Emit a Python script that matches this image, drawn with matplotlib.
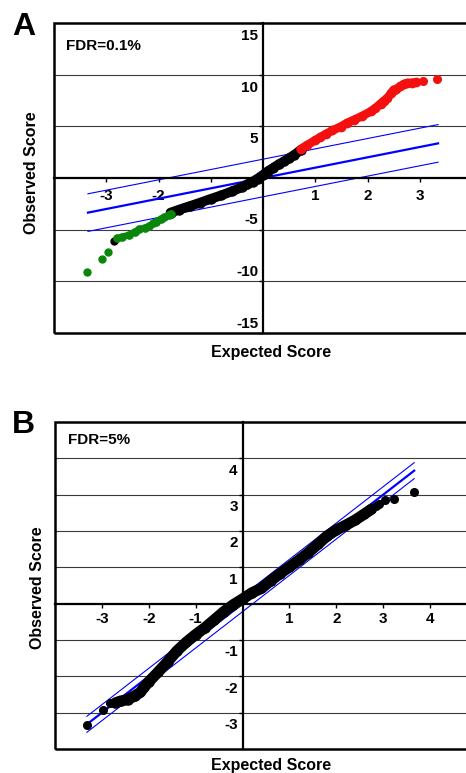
import matplotlib
matplotlib.use("Agg")
import matplotlib.pyplot as plt
from matplotlib.patches import Rectangle

plt.rcParams['font.family'] = ['Liberation Sans', 'DejaVu Sans']
plt.rcParams['font.weight'] = 'bold'

# ---- panel A data (FDR=0.1%) ----
a_black_x = [-1.77, -1.6, -1.4, -1.2, -1.0, -0.8, -0.6, -0.4, -0.3, -0.2, -0.1,
             0.0, 0.1, 0.2, 0.3, 0.4, 0.5, 0.6, 0.72]
a_black_y = [-3.35, -3.05, -2.72, -2.38, -2.02, -1.68, -1.3, -0.88, -0.62, -0.36, -0.05,
             0.3, 0.68, 1.0, 1.32, 1.6, 1.92, 2.25, 2.7]
a_black_out_x = [-2.86]
a_black_out_y = [-6.05]
a_green_x = [-2.80, -2.7, -2.56, -2.45, -2.37, -2.25, -2.18, -2.1, -2.05, -1.95, -1.89, -1.8, -1.76]
a_green_y = [-5.85, -5.7, -5.5, -5.2, -4.98, -4.8, -4.66, -4.4, -4.24, -3.95, -3.82, -3.55, -3.45]
a_green_out_x = [-3.36, -3.09, -2.96]
a_green_out_y = [-9.1, -7.83, -7.12]
a_red_x = [0.72, 0.85, 1.0, 1.1, 1.2, 1.33, 1.49, 1.6, 1.74, 1.9, 2.06, 2.15, 2.25, 2.32,
           2.38, 2.45, 2.5, 2.55, 2.63, 2.7, 2.76, 2.85, 2.92]
a_red_y = [2.79, 3.2, 3.65, 3.95, 4.25, 4.6, 4.98, 5.3, 5.63, 6.0, 6.44, 6.75, 7.2, 7.5,
           7.74, 8.2, 8.54, 8.6, 8.86, 9.1, 9.19, 9.22, 9.25]
a_red_out_x = [3.06, 3.33]
a_red_out_y = [9.35, 9.6]
a_line_x = [-3.35, 3.35]
a_delta = 1.82
a_yticks_lab = [15, 10, 5, -5, -10, -15]
a_grid = [10, 5, -5, -10]
a_xticks = [-3, -2, -1, 1, 2, 3]
a_xlabels = [-3, -2, 1, 2, 3]

# ---- panel B data (FDR=5%) ----
b_x = [-2.71, -2.6, -2.45, -2.3, -2.18, -2.1, -2.0, -1.8, -1.6, -1.4, -1.2, -1.0, -0.8,
       -0.6, -0.4, -0.2, 0.0, 0.2, 0.4, 0.6, 0.8, 1.0, 1.2, 1.4, 1.6, 1.8, 2.0, 2.2,
       2.4, 2.6, 2.75]
b_y = [-2.73, -2.68, -2.64, -2.54, -2.44, -2.3, -2.15, -1.88, -1.6, -1.3, -1.06, -0.85, -0.66,
       -0.44, -0.22, -0.03, 0.13, 0.3, 0.42, 0.63, 0.83, 1.01, 1.2, 1.4, 1.63, 1.86, 2.03, 2.16,
       2.3, 2.47, 2.6]
b_out_x = [-3.31, -2.98, -2.82, 2.84, 2.91, 3.03, 3.23, 3.65]
b_out_y = [-3.35, -2.94, -2.74, 2.7, 2.75, 2.85, 2.88, 3.06]
b_line_x = [-3.32, 3.66]
b_delta = 0.22
b_yticks_lab = [4, 3, 2, 1, -1, -2, -3]
b_grid = [4, 3, 2, 1, -1, -2, -3]
b_xticks = [-3, -2, -1, 1, 2, 3, 4]
b_xlabels = [-3, -2, -1, 1, 2, 3, 4]

fig = plt.figure(figsize=(4.66, 7.73), dpi=100)
W, H = 466, 773


def setup(ax, xlim, ylim, grid, xticks, xlabels, ylabels, ypos_off, yneg_off, xoff):
    ax.set_xlim(*xlim)
    ax.set_ylim(*ylim)
    for s in ['top', 'right']:
        ax.spines[s].set_visible(False)
    ax.spines['left'].set_position(('data', 0))
    ax.spines['bottom'].set_position(('data', 0))
    ax.spines['left'].set_linewidth(1.6)
    ax.spines['bottom'].set_linewidth(1.6)
    ax.spines['left'].set_zorder(2.5)
    ax.spines['bottom'].set_zorder(2.5)
    ax.add_patch(Rectangle((0, 0), 1, 1, transform=ax.transAxes, fill=False,
                           lw=1.8, ec='black', zorder=5, clip_on=False))
    for g in grid:
        ax.axhline(g, color='#3a3a3a', lw=0.8, zorder=1)
    ax.set_xticks(xticks)
    ax.set_yticks(ylabels)
    ax.tick_params(direction='out', length=3, width=1, labelbottom=False, labelleft=False)
    for v in ylabels:
        off = ypos_off if v > 0 else yneg_off
        ax.annotate(str(v), xy=(0, v), xytext=(-3.5, off), textcoords='offset points',
                    ha='right', va='center', fontsize=11, fontweight='bold', zorder=1.5)
    for v in xlabels:
        ax.annotate(str(v), xy=(v, 0), xytext=(0, xoff), textcoords='offset points',
                    ha='center', va='center', fontsize=11, fontweight='bold', zorder=1.5)


# panel A
axA = fig.add_axes([54 / W, (H - 333) / H, 418 / W, 310 / H])
setup(axA, (-4, 4), (-15, 15), a_grid, a_xticks, a_xlabels, a_yticks_lab, -9.4, 6.8, -13)
axA.plot(a_line_x, a_line_x, color='#0000ff', lw=1.6, zorder=2)
axA.plot(a_line_x, [v + a_delta for v in a_line_x], color='#0000ff', lw=0.8, zorder=2)
axA.plot(a_line_x, [v - a_delta for v in a_line_x], color='#0000ff', lw=0.8, zorder=2)
axA.plot(a_black_x, a_black_y, '-o', color='black', lw=7, ms=6.5, solid_capstyle='round', zorder=3)
axA.plot(a_black_out_x, a_black_out_y, 'o', color='black', ms=5, zorder=3)
axA.plot(a_green_x, a_green_y, '-o', color='#0a860a', lw=4.8, ms=5.2, solid_capstyle='round', zorder=3)
axA.plot(a_green_out_x, a_green_out_y, 'o', color='#0a860a', ms=5, zorder=3)
axA.plot(a_red_x, a_red_y, '-o', color='#f51010', lw=6.2, ms=6, solid_capstyle='round', zorder=3)
axA.plot(a_red_out_x, a_red_out_y, 'o', color='#f51010', ms=5.5, zorder=3)
axA.text(66 / W, 1 - 46 / H, 'FDR=0.1%', transform=fig.transFigure, fontsize=11,
         fontweight='bold', va='center', ha='left')

# panel B
axB = fig.add_axes([55 / W, (H - 749) / H, 422 / W, 327 / H])
setup(axB, (-4, 5), (-4, 5), b_grid, b_xticks, b_xlabels, b_yticks_lab, -8.9, -8.9, -11.3)
axB.plot(b_line_x, b_line_x, color='#0000ff', lw=1.6, zorder=2)
axB.plot(b_line_x, [v + b_delta for v in b_line_x], color='#0000ff', lw=0.8, zorder=2)
axB.plot(b_line_x, [v - b_delta for v in b_line_x], color='#0000ff', lw=0.8, zorder=2)
axB.plot(b_x, b_y, '-o', color='black', lw=8, ms=6.5, solid_capstyle='round', zorder=3)
axB.plot(b_out_x, b_out_y, 'o', color='black', ms=5.5, zorder=3)
fig.text(68 / W, 1 - 440 / H, 'FDR=5%', fontsize=11, fontweight='bold', va='center', ha='left')

# panel letters and axis titles
fig.text(12 / W, 1 - 35 / H, 'A', fontsize=23, fontweight='bold', va='baseline', ha='left')
fig.text(12 / W, 1 - 432.7 / H, 'B', fontsize=23, fontweight='bold', va='baseline', ha='left')
fig.text(271 / W, 1 - 352.7 / H, 'Expected Score', fontsize=11.5, fontweight='bold', ha='center', va='center')
fig.text(271 / W, 1 - 765.7 / H, 'Expected Score', fontsize=11.5, fontweight='bold', ha='center', va='center')
fig.text(31 / W, 1 - 173 / H, 'Observed Score', fontsize=11.5, fontweight='bold', ha='center',
         va='center', rotation=90)
fig.text(37 / W, 1 - 588 / H, 'Observed Score', fontsize=11.5, fontweight='bold', ha='center',
         va='center', rotation=90)

fig.savefig('out.png', dpi=100)
